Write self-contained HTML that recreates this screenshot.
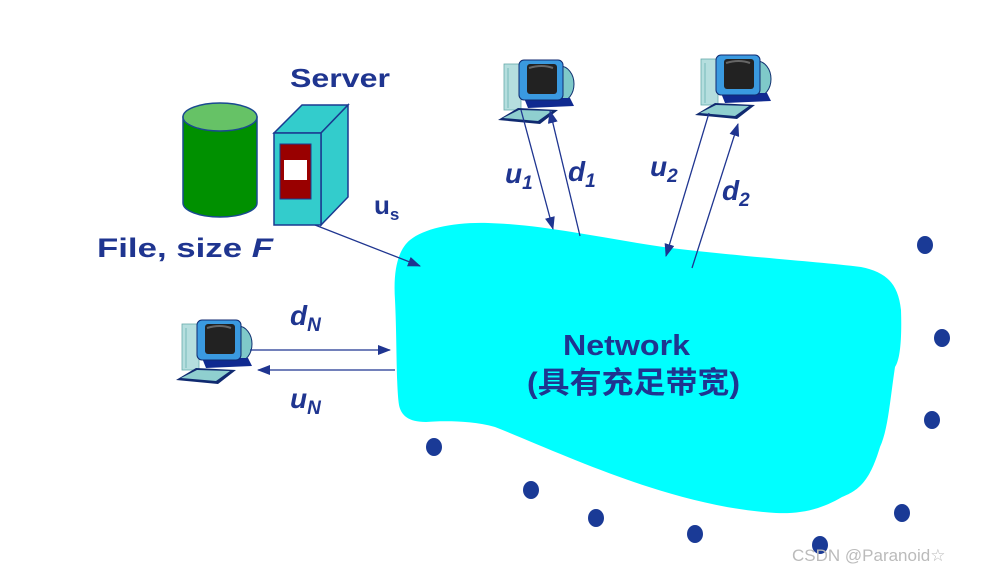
<!DOCTYPE html>
<html><head><meta charset="utf-8"><style>
body{margin:0;background:#fff}
svg{display:block}
text{font-family:"Liberation Sans","Noto Sans CJK SC",sans-serif;fill:#1f3590;font-weight:bold}
</style></head><body>
<svg width="982" height="573" viewBox="0 0 982 573" xmlns="http://www.w3.org/2000/svg">
<defs>
<marker id="ah" markerWidth="13" markerHeight="10" refX="12" refY="5" orient="auto" markerUnits="userSpaceOnUse"><path d="M0,0 L13,5 L0,10 Z" fill="#1f3590"/></marker>
<g id="pc">
<rect x="6" y="6" width="17" height="46" fill="#b5dede" stroke="#6aa" stroke-width="0.8"/>
<line x1="10" y1="10" x2="10" y2="50" stroke="#7bb" stroke-width="1"/>
<ellipse cx="62" cy="26" rx="14" ry="18" fill="#7fc9c9" stroke="#103070" stroke-width="1"/>
<path d="M26 40 L72 40 L76 48 L30 50 Z" fill="#102a90"/>
<rect x="21" y="2" width="44" height="40" rx="5" fill="#3a9ae0" stroke="#102a70" stroke-width="1"/>
<rect x="29" y="6" width="30" height="30" rx="3" fill="#222"/>
<path d="M31 10 Q44 6 55 10" stroke="#666" stroke-width="2" fill="none"/>
<path d="M0 62 L20 50 L60 52 L42 66 Z" fill="#102a70"/>
<path d="M5 60 L21 52 L54 53 L40 63 Z" fill="#8fcfcf"/>
</g>
</defs>
<path d="M395,300 C393,270 398,250 410,240 C425,228 455,222 488,223 C520,224 545,228 572,232 C610,238 650,246 688,250 C760,258 820,262 861,267 C885,272 898,282 901,310 C902,340 900,360 895,367 C890,400 888,430 880,447 C870,480 860,490 842,497 C820,510 800,514 776,513 C730,510 690,500 649,487 C590,468 540,445 495,427 C470,420 440,421 426,422 C408,422 401,415 399,405 C396,385 397,340 395,300 Z" fill="#00ffff"/>
<text x="563" y="355" font-size="29" textLength="127" lengthAdjust="spacingAndGlyphs">Network</text>
<text x="527" y="393" font-size="30" textLength="213" lengthAdjust="spacingAndGlyphs">(具有充足带宽)</text>
<path d="M183,117 L183,203 A37,14 0 0 0 257,203 L257,117 Z" fill="#009000" stroke="#1a4a90" stroke-width="1.5"/>
<ellipse cx="220" cy="117" rx="37" ry="14" fill="#66c266" stroke="#1a4a90" stroke-width="1.5"/>
<path d="M274,133 L302,105 L348,105 L321,133 Z" fill="#33cccc" stroke="#1a3a90" stroke-width="1.5"/>
<path d="M321,133 L348,105 L348,197 L321,225 Z" fill="#33cccc" stroke="#1a3a90" stroke-width="1.5"/>
<rect x="274" y="133" width="47" height="92" fill="#33cccc" stroke="#1a3a90" stroke-width="1.5"/>
<rect x="280" y="144" width="31" height="55" fill="#990000" stroke="#1a3a90" stroke-width="1"/>
<rect x="284" y="160" width="23" height="20" fill="#fff"/>
<text x="290" y="87" font-size="26" textLength="100" lengthAdjust="spacingAndGlyphs">Server</text>
<text x="97" y="257" font-size="27" textLength="176" lengthAdjust="spacingAndGlyphs">File, size <tspan font-style="italic">F</tspan></text>
<text x="374" y="214" font-size="26">u<tspan font-size="17" dy="6">s</tspan></text>
<use href="#pc" transform="translate(498,58)"/>
<use href="#pc" transform="translate(695,53)"/>
<use href="#pc" transform="translate(176,318)"/>
<g stroke="#1f3590" stroke-width="1.3" fill="none">
<line x1="315" y1="225" x2="420" y2="266" marker-end="url(#ah)"/>
<line x1="521" y1="110" x2="553" y2="229" marker-end="url(#ah)"/>
<line x1="580" y1="236" x2="550" y2="111" marker-end="url(#ah)"/>
<line x1="709" y1="113" x2="666" y2="256" marker-end="url(#ah)"/>
<line x1="692" y1="268" x2="738" y2="124" marker-end="url(#ah)"/>
<line x1="250" y1="350" x2="390" y2="350" marker-end="url(#ah)"/>
<line x1="395" y1="370" x2="258" y2="370" marker-end="url(#ah)"/>
</g>
<g font-style="italic" font-size="28">
<text x="505" y="183">u<tspan font-size="19" dy="6">1</tspan></text>
<text x="568" y="181">d<tspan font-size="19" dy="6">1</tspan></text>
<text x="650" y="176">u<tspan font-size="19" dy="6">2</tspan></text>
<text x="722" y="200">d<tspan font-size="19" dy="6">2</tspan></text>
<text x="290" y="325">d<tspan font-size="19" dy="6">N</tspan></text>
<text x="290" y="408">u<tspan font-size="19" dy="6">N</tspan></text>
</g>
<g fill="#1a3a96">
<ellipse cx="925" cy="245" rx="8" ry="9"/>
<ellipse cx="942" cy="338" rx="8" ry="9"/>
<ellipse cx="932" cy="420" rx="8" ry="9"/>
<ellipse cx="902" cy="513" rx="8" ry="9"/>
<ellipse cx="820" cy="545" rx="8" ry="9"/>
<ellipse cx="695" cy="534" rx="8" ry="9"/>
<ellipse cx="596" cy="518" rx="8" ry="9"/>
<ellipse cx="531" cy="490" rx="8" ry="9"/>
<ellipse cx="434" cy="447" rx="8" ry="9"/>
</g>
<text x="792" y="561" font-size="17" style="fill:#bbb;font-weight:normal;font-family:'Liberation Sans',sans-serif">CSDN @Paranoid☆</text>
</svg>
</body></html>
